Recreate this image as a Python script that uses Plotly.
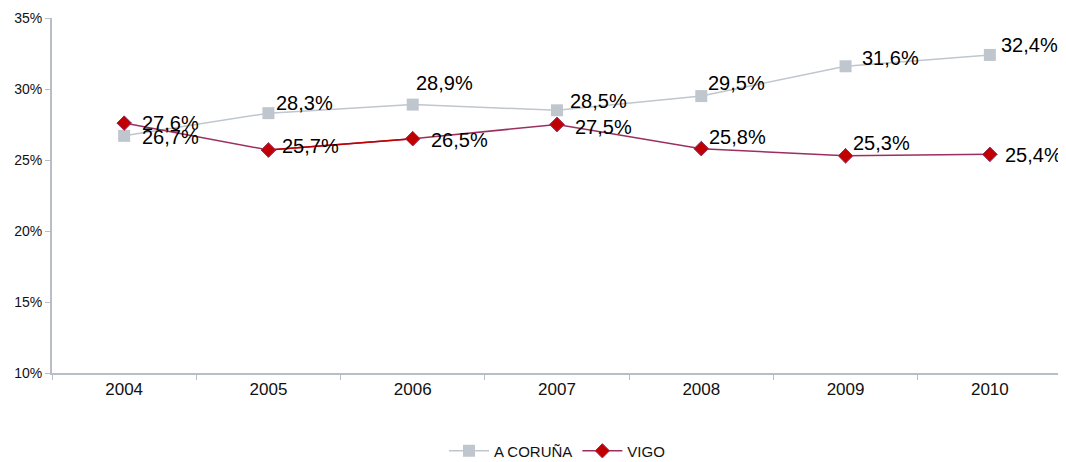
import plotly.graph_objects as go

years = ["2004", "2005", "2006", "2007", "2008", "2009", "2010"]
coruna = [26.7, 28.3, 28.9, 28.5, 29.5, 31.6, 32.4]
vigo = [27.6, 25.7, 26.5, 27.5, 25.8, 25.3, 25.4]
y_ticks = [10, 15, 20, 25, 30, 35]

GREY = "#C0C6CE"
MAROON = "#9B2F5F"
RED = "#C00000"
AXIS = "#B7BEC8"
FONT = "Liberation Sans, Arial"

# label offsets (px) right/up of each marker, as placed in the original
coruna_off = [(16, -1), (6, 10), (1, 22), (11, 9), (5, 13), (14, 8), (9, 10)]
vigo_off = [(16, 0), (12, 4), (16, -1), (16, -2), (6, 12), (5, 13), (13, -1)]


def fmt(v):
    return f"{v:.1f}".replace(".", ",") + "%"


fig = go.Figure()

fig.add_trace(go.Scatter(
    x=years, y=coruna, mode="lines+markers", name="A CORUÑA",
    line=dict(color=GREY, width=1.5),
    marker=dict(symbol="square", size=12, color=GREY),
))

fig.add_trace(go.Scatter(
    x=years, y=vigo, mode="lines+markers", name="VIGO",
    line=dict(color=MAROON, width=1.5),
    marker=dict(symbol="diamond", size=11, color=RED,
                line=dict(color=MAROON, width=1)),
))

# the 2005-2006 stretch is drawn in red in the original
fig.add_trace(go.Scatter(
    x=years[1:3], y=vigo[1:3], mode="lines", showlegend=False,
    line=dict(color=RED, width=1.5), hoverinfo="skip",
))
fig.add_trace(go.Scatter(
    x=years, y=vigo, mode="markers", showlegend=False,
    marker=dict(symbol="diamond", size=11, color=RED,
                line=dict(color=MAROON, width=1)),
    hoverinfo="skip",
))

# annotations use the category index: "2004" would be read as position 2004
for vals, offs in ((coruna, coruna_off), (vigo, vigo_off)):
    for i, (v, (dx, dy)) in enumerate(zip(vals, offs)):
        fig.add_annotation(
            x=i, y=v, text=fmt(v), showarrow=False,
            xanchor="left", yanchor="middle", xshift=dx, yshift=dy,
            font=dict(family=FONT, size=20, color="#000"),
        )

fig.update_layout(
    width=1066, height=462,
    paper_bgcolor="white", plot_bgcolor="white",
    margin=dict(l=44, r=12, t=10, b=97),
    font=dict(family=FONT, size=14, color="#111"),
    showlegend=True,
    legend=dict(orientation="h", x=0.5, xanchor="center",
                yref="container", y=0.041, yanchor="middle",
                font=dict(size=15, color="#111"), itemwidth=40),
    xaxis=dict(
        type="category", range=[-0.5, 6.5], automargin=False,
        showline=True, linecolor=AXIS, linewidth=2,
        ticks="outside", tickson="boundaries", ticklen=5, tickcolor=AXIS,
        tickfont=dict(size=17),
        showgrid=False, zeroline=False,
    ),
    yaxis=dict(
        range=[10, 35], tickvals=y_ticks, automargin=False,
        ticktext=[f"{t}%" for t in y_ticks],
        showline=True, linecolor=AXIS, linewidth=2,
        ticks="outside", ticklen=5, tickcolor=AXIS,
        tickfont=dict(size=14),
        showgrid=False, zeroline=False,
    ),
)

fig.write_html("out.html")
